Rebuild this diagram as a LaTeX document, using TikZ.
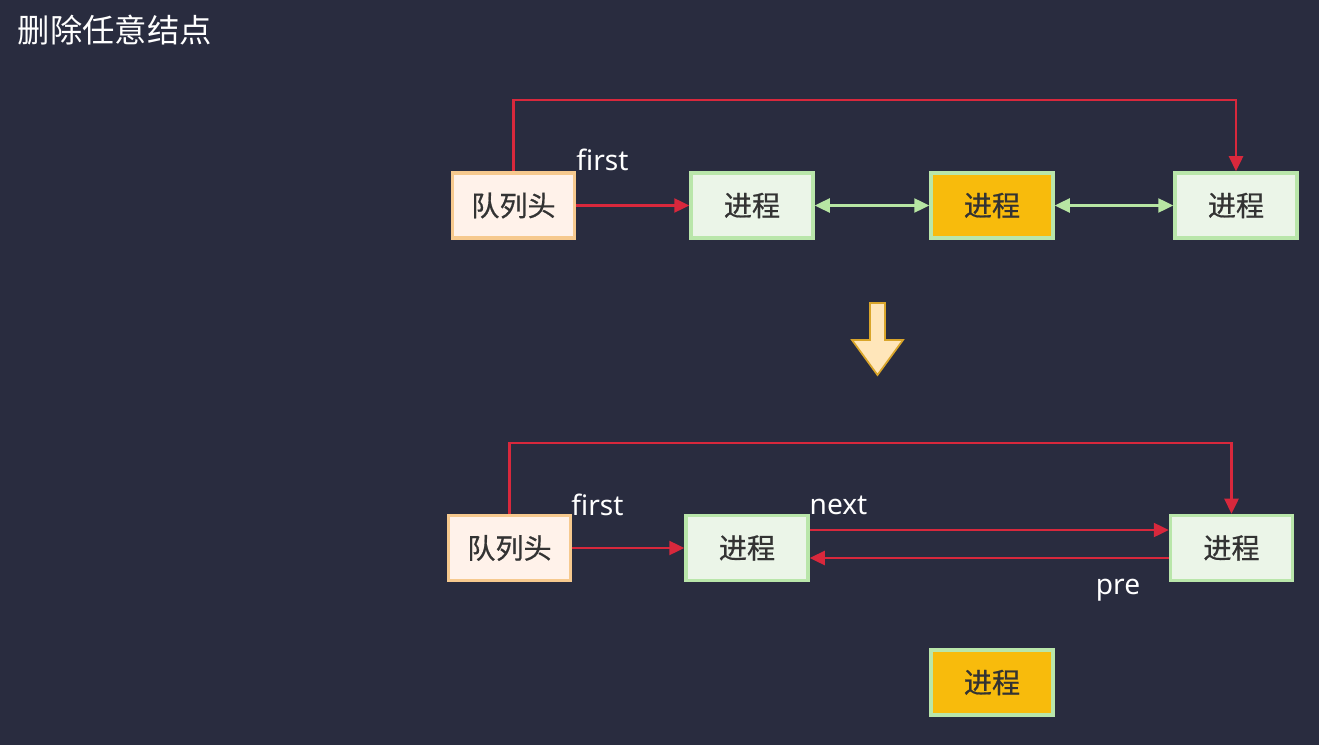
\documentclass[tikz,border=0pt]{standalone}
\usepackage{fontspec}
\setmainfont{Noto Sans}
\newfontfamily\cjk{Noto Sans CJK SC}
\newfontfamily\cjkbox[FakeBold=0.6]{Noto Sans CJK SC}
\usetikzlibrary{arrows.meta}
\definecolor{bg}{HTML}{292C3F}
\definecolor{headfill}{HTML}{FFF2EA}
\definecolor{headborder}{HTML}{F6C98E}
\definecolor{procfill}{HTML}{EBF5E8}
\definecolor{procborder}{HTML}{B9E6AA}
\definecolor{hotfill}{HTML}{F8BB0C}
\definecolor{redline}{HTML}{D8283C}
\definecolor{greenline}{HTML}{B7E6A3}
\definecolor{arrowfill}{HTML}{FFE6BA}
\definecolor{arrowborder}{HTML}{D9A52A}
\definecolor{boxtext}{HTML}{333333}
\tikzset{
  box/.style={draw, line width=1pt, minimum width=1.22cm, minimum height=0.65cm, inner sep=0pt,
    text=boxtext, font=\cjkbox\fontsize{8}{10}\selectfont},
  headbox/.style={box, fill=headfill, draw=headborder},
  procbox/.style={box, fill=procfill, draw=procborder},
  hotbox/.style={box, fill=hotfill, draw=procborder},
  redarrow/.style={draw=redline, line width=0.7pt, -{Triangle[length=1.5mm,width=1.4mm]}},
  greenarrow/.style={draw=greenline, line width=0.7pt, {Triangle[length=1.5mm,width=1.4mm]}-{Triangle[length=1.5mm,width=1.4mm]}},
  lbl/.style={text=white, font=\fontsize{8}{10}\selectfont, inner sep=0pt},
}
\begin{document}
\begin{tikzpicture}
\fill[bg] (0,0) rectangle (13.19,-7.45);
\useasboundingbox (0,0) rectangle (13.19,-7.45);

\node[anchor=west, text=white, font=\cjk\fontsize{9.2}{11}\selectfont, inner sep=0pt] (title) at (0.17,-0.30) {删除任意结点};

% top row
\node[headbox] (h1) at (5.135,-2.055) {队列头};
\node[procbox] (a1) at (7.52,-2.055) {进程};
\node[hotbox]  (b1) at (9.92,-2.055) {进程};
\node[procbox] (c1) at (12.36,-2.055) {进程};
\node[lbl] (f1) at (6.025,-1.60) {first};

\draw[redarrow] (h1.east) -- (a1.west);
\draw[greenarrow] (a1.east) -- (b1.west);
\draw[greenarrow] (b1.east) -- (c1.west);
\draw[redarrow] (h1.north) -- ++(0,0.71) -| (c1.north);

% down arrow
\filldraw[fill=arrowfill, draw=arrowborder, line width=0.5pt]
  (8.70,-3.03) -- (8.85,-3.03) -- (8.85,-3.40) -- (9.03,-3.40) -- (8.775,-3.75)
  -- (8.52,-3.40) -- (8.70,-3.40) -- cycle;

% bottom row
\node[headbox] (h2) at (5.095,-5.48) {队列头};
\node[procbox] (a2) at (7.47,-5.48) {进程};
\node[procbox] (c2) at (12.315,-5.48) {进程};
\node[hotbox]  (b2) at (9.92,-6.825) {进程};
\node[lbl] (f2) at (5.975,-5.05) {first};
\node[lbl] (nx) at (8.385,-5.05) {next};
\node[lbl] (pr) at (11.18,-5.90) {pre};

\draw[redarrow] (h2.east) -- (a2.west);
\draw[redarrow] (h2.north) -- ++(0,0.71) -| (c2.north);
\draw[redarrow] ([yshift=0.18cm]a2.east) -- ([yshift=0.18cm]c2.west);
\draw[redarrow] ([yshift=-0.10cm]c2.west) -- ([yshift=-0.10cm]a2.east);
\end{tikzpicture}
\end{document}
